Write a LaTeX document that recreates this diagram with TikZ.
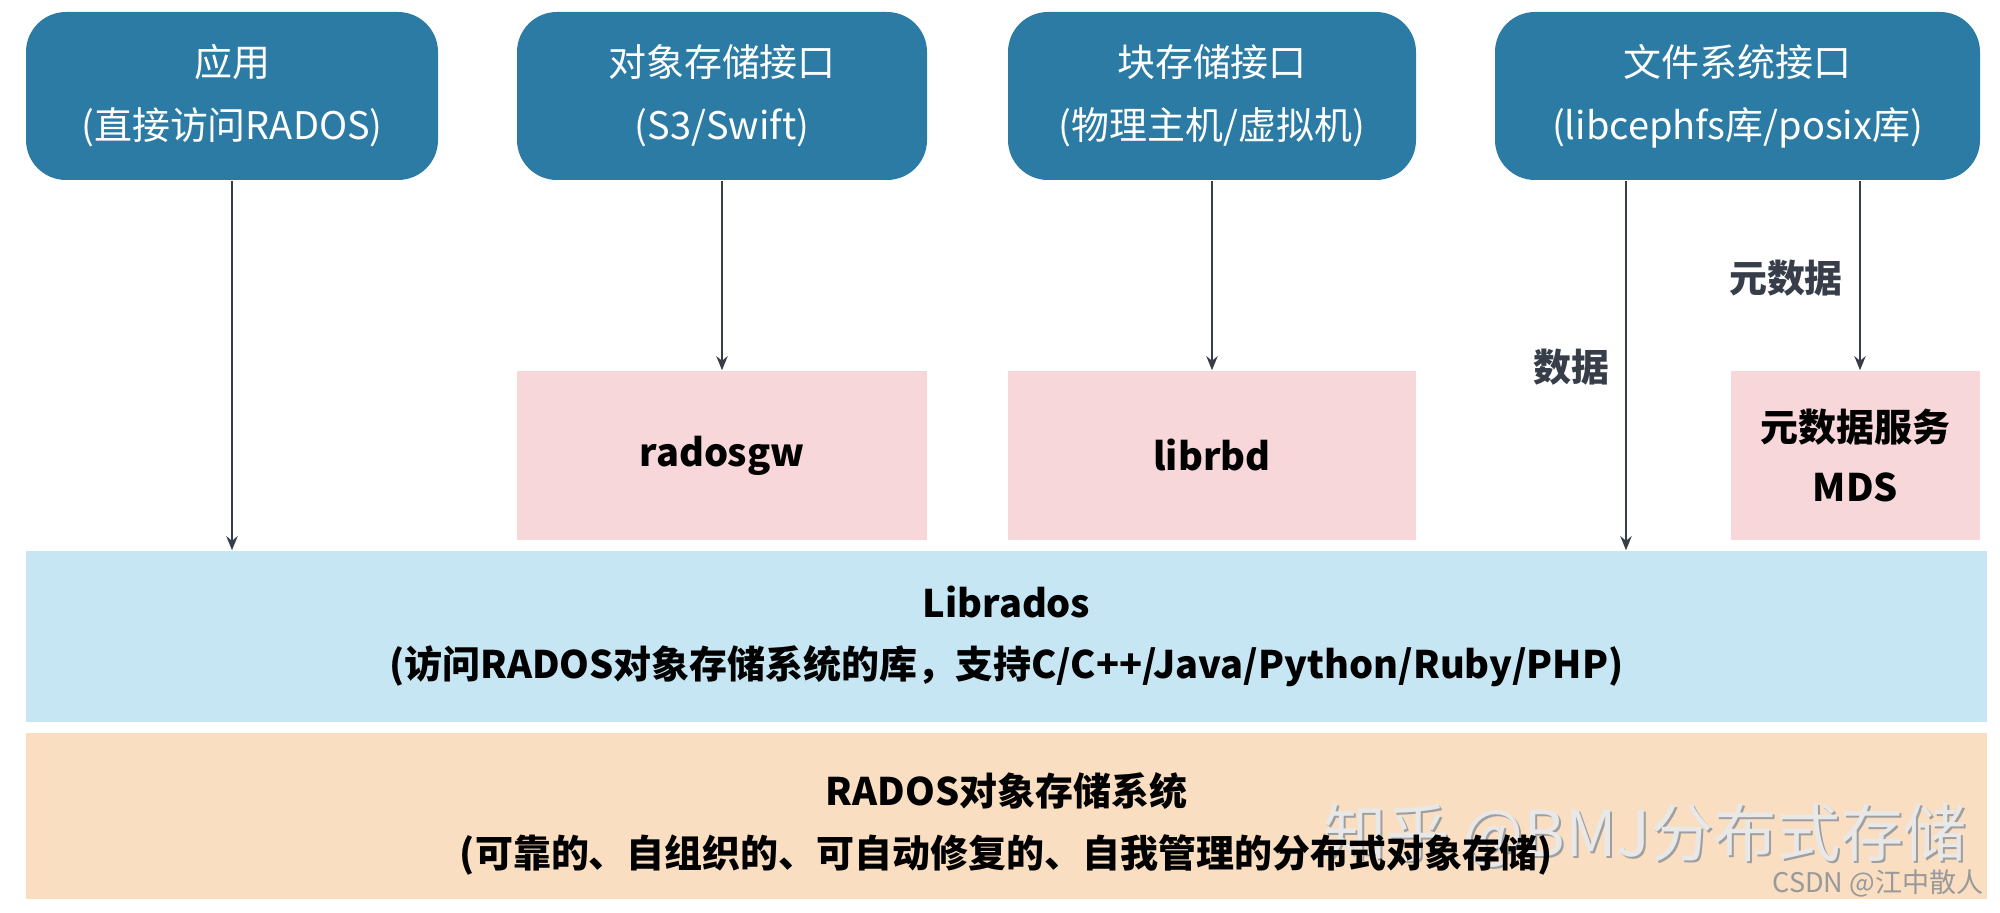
\documentclass[tikz,border=0pt]{standalone}
\usepackage{fontspec}
\setmainfont{Noto Sans CJK SC}
\usetikzlibrary{arrows.meta}

\definecolor{ifblue}{RGB}{43,123,165}
\definecolor{libpink}{RGB}{248,215,218}
\definecolor{radosblue}{RGB}{198,230,243}
\definecolor{radospeach}{RGB}{250,222,194}
\definecolor{flowgray}{RGB}{55,62,74}

\begin{document}
\begin{tikzpicture}[
  iface/.style = {fill=ifblue, rounded corners=0.4cm, minimum height=1.68cm,
                  text=white, align=center, font=\fontsize{10.8}{18}\selectfont},
  libbox/.style = {fill=libpink, minimum height=1.69cm, align=center,
                   font=\fontsize{10.8}{17}\selectfont\bfseries},
  band/.style = {minimum width=19.61cm, align=center,
                 font=\fontsize{10.8}{17.5}\selectfont\bfseries},
  flow/.style = {flowgray, line width=0.7pt, -{Stealth[length=4pt,width=3.2pt]}},
  lbl/.style = {text=flowgray, font=\fontsize{10.8}{13}\selectfont\bfseries},
  wmark/.style = {font=\fontsize{18}{20}\selectfont}
]
\useasboundingbox (0,0) rectangle (20,-9.13);

% interfaces
\node[iface, minimum width=4.12cm] (app) at (2.32,-0.96) {应用\\(直接访问RADOS)};
\node[iface, minimum width=4.10cm] (objif) at (7.22,-0.96) {对象存储接口\\(S3/Swift)};
\node[iface, minimum width=4.08cm] (blkif) at (12.12,-0.96) {块存储接口\\(物理主机/虚拟机)};
\node[iface, minimum width=4.85cm] (fsif) at (17.375,-0.96) {文件系统接口\\(libcephfs库/posix库)};

% gateways
\node[libbox, minimum width=4.10cm] (rgw) at (7.22,-4.555) {radosgw};
\node[libbox, minimum width=4.08cm] (rbd) at (12.12,-4.555) {librbd};
\node[libbox, minimum width=2.49cm] (mds) at (18.555,-4.555) {元数据服务\\MDS};

% layers
\node[band, fill=radosblue, minimum height=1.71cm] (lib) at (10.065,-6.365)
  {Librados\\(访问RADOS对象存储系统的库，支持C/C++/Java/Python/Ruby/PHP)};
\node[band, fill=radospeach, minimum height=1.66cm] (rados) at (10.065,-8.16) {};

% watermarks
\node[wmark, text=gray!75] (zhshadow) at (16.47,-8.37) {知乎 @BMJ分布式存储};
\node[wmark, text=white!82!gray] (zhihu) at (16.45,-8.35) {知乎 @BMJ分布式存储};
\node[text=gray!80, font=\fontsize{7.7}{9}\selectfont] (csdn) at (18.78,-8.83) {CSDN @江中散人};

\node[band, yshift=-0.08cm] (radostxt) at (rados)
  {RADOS对象存储系统\\(可靠的、自组织的、可自动修复的、自我管理的分布式对象存储)};

% arrows
\draw[flow] (app.south) -- (app.south |- lib.north);
\draw[flow] (objif.south) -- (rgw.north);
\draw[flow] (blkif.south) -- (rbd.north);
\coordinate (data) at ([xshift=-1.115cm]fsif.south);
\coordinate (meta) at ([xshift=1.225cm]fsif.south);
\draw[flow] (data) -- (data |- lib.north);
\draw[flow] (meta) -- (meta |- mds.north);

\node[lbl] (metalbl) at (17.86,-2.78) {元数据};
\node[lbl] (datalbl) at (15.71,-3.67) {数据};
\end{tikzpicture}
\end{document}
